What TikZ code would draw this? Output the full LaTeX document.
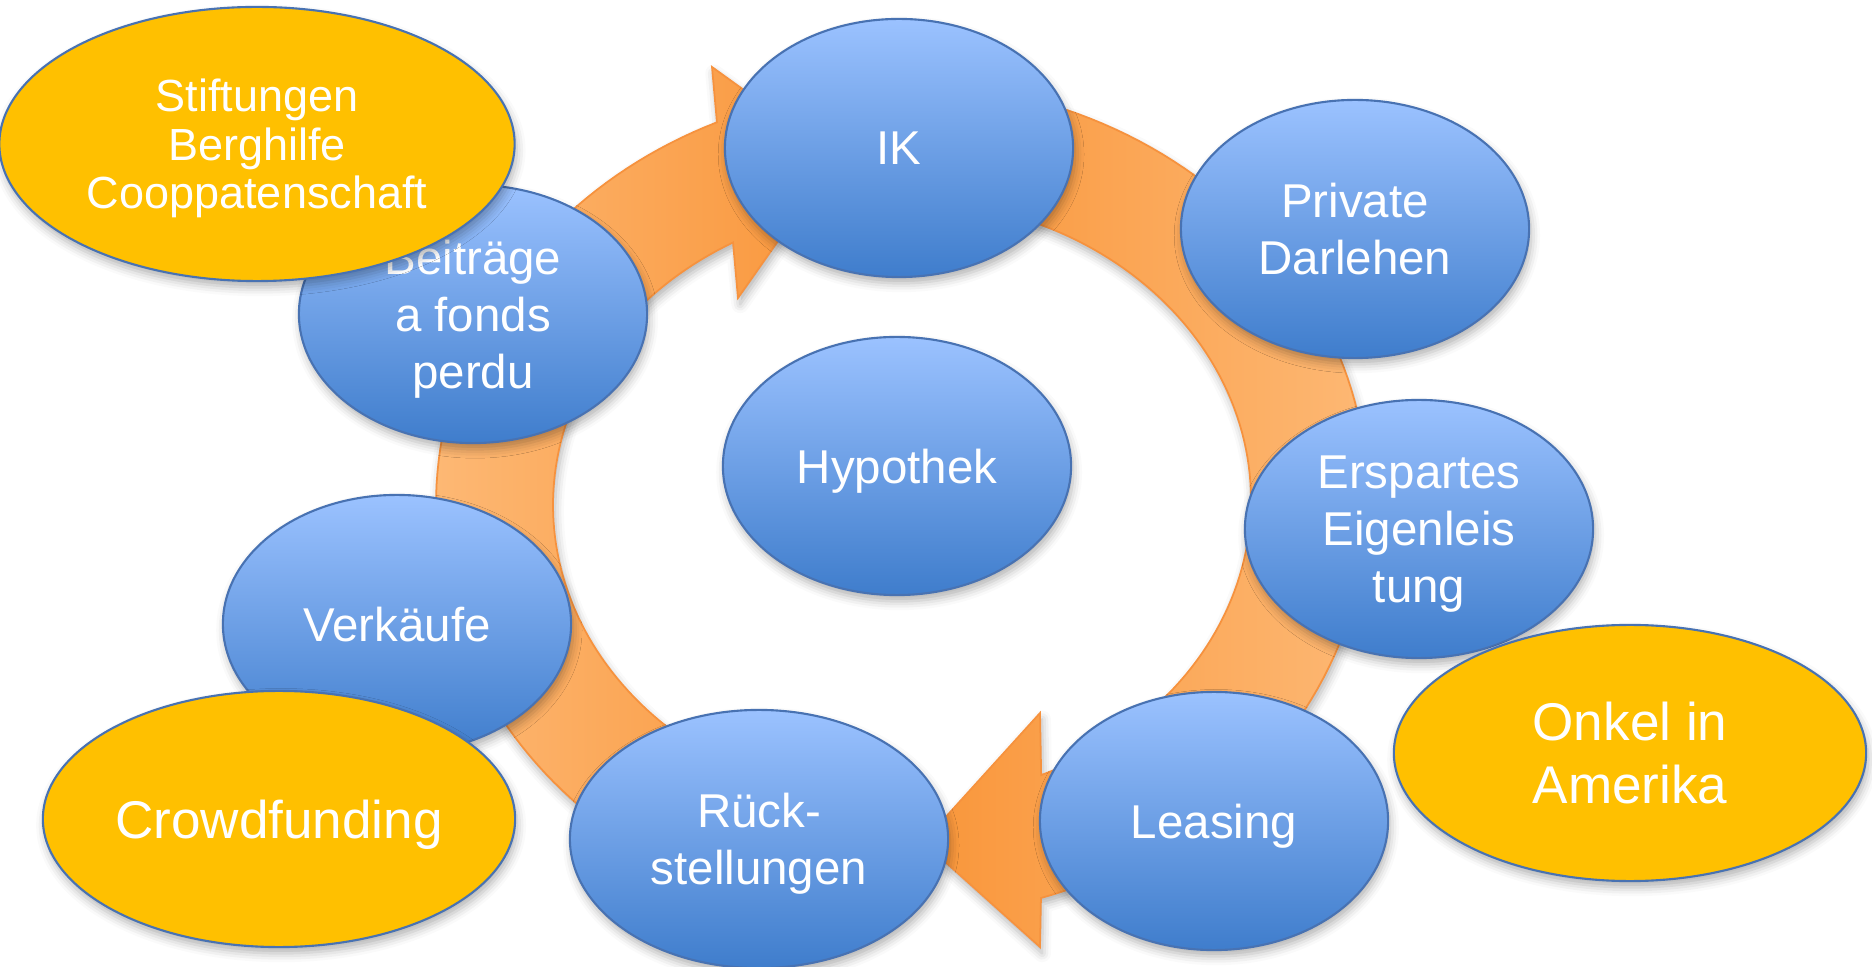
\documentclass[tikz,border=0pt]{standalone}
\usepackage{fontspec}
\setmainfont{Liberation Sans}
\usetikzlibrary{shapes.geometric, shadows.blur}

\definecolor{bluetop}{RGB}{155,194,255}
\definecolor{bluebot}{RGB}{63,125,204}
\definecolor{blueedge}{RGB}{72,114,178}
\definecolor{gold}{RGB}{255,192,0}
\definecolor{orangedark}{RGB}{249,150,58}
\definecolor{orangelight}{RGB}{253,184,116}
\definecolor{orangeedge}{RGB}{246,146,62}

\tikzset{
  softshadow/.style={blur shadow={shadow xshift=0.6pt, shadow yshift=-1.8pt,
      shadow blur radius=2.5pt, shadow opacity=30}},
  bubble/.style={ellipse, inner sep=0pt, minimum width=3.48cm, minimum height=2.58cm,
      draw=blueedge, line width=0.6pt, top color=bluetop, bottom color=bluebot,
      text=white, align=center, text depth=0pt,
      font=\fontsize{13.5pt}{16.2pt}\selectfont, softshadow},
  extra/.style={ellipse, inner sep=0pt, minimum width=4.72cm, minimum height=2.56cm,
      draw=blueedge, line width=0.6pt, fill=gold,
      text=white, align=center, text depth=0pt,
      font=\fontsize{15.1pt}{17.9pt}\selectfont, softshadow},
  band/.style={draw=orangeedge, line width=0.5pt, softshadow},
}

\begin{document}
\begin{tikzpicture}[x=0.01cm, y=-0.01cm]
\useasboundingbox (0,0) rectangle (1872,967);

% left half of the cycle: rises from the bottom and points right into IK
\path[band, left color=orangelight, right color=orangedark]
  plot[domain=105:246.6, samples=90] ({902+466*cos(\x)}, {505+417*sin(\x)})
  -- (712,67) -- (837,157) -- (738,298)
  -- plot[domain=241.04:105, samples=90] ({902+349*cos(\x)}, {505+300*sin(\x)})
  -- cycle;

% right half of the cycle: runs down the right side and points left at the bottom
\path[band, left color=orangedark, right color=orangelight]
  plot[domain=-78:72.65, samples=90] ({902+466*cos(\x)}, {500+417*sin(\x)})
  -- (1040,947) -- (923,842) -- (1040,713)
  -- plot[domain=66.5:-78, samples=90] ({902+349*cos(\x)}, {500+300*sin(\x)})
  -- cycle;

% financing sources on the cycle
\node[bubble] (ik) at (899,148) {IK};
\node[bubble] (darlehen) at (1355,229) {Private\\Darlehen};
\node[bubble] (erspart) at (1419,529) {Erspartes\\Eigenleis\\tung};
\node[bubble] (leasing) at (1214,821) {Leasing};
\node[bubble, minimum width=3.78cm] (rueck) at (759,839) {Rück-\\stellungen};
\node[bubble] (verkauf) at (397,624) {Verkäufe};
\node[bubble] (beitrag) at (473,314) {Beiträge\\a fonds\\perdu};
\node[bubble] (hypo) at (897,466) {Hypothek};

% additional sources
\node[extra, minimum width=5.15cm, minimum height=2.74cm,
      font=\fontsize{12.8pt}{13.8pt}\selectfont] (stift) at (257,144)
      {Stiftungen\\Berghilfe\\Cooppatenschaft};
\node[extra] (crowd) at (279,819) {Crowdfunding};
\node[extra] (onkel) at (1630,753) {Onkel in\\Amerika};
\end{tikzpicture}
\end{document}
